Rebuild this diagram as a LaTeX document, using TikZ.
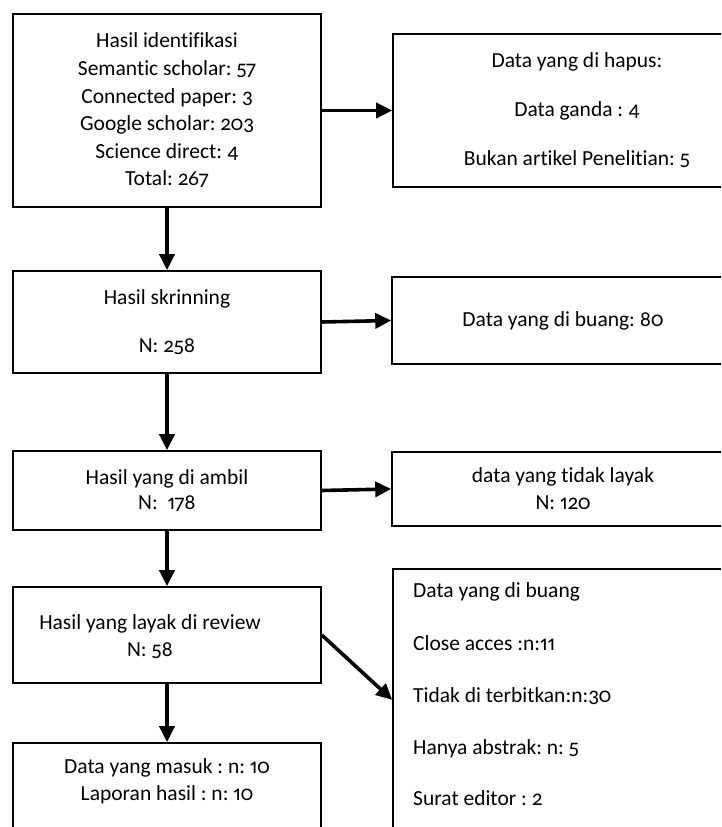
\documentclass[tikz,border=0pt]{standalone}
\usepackage{fontspec}
\setmainfont{Carlito}[Numbers={OldStyle,Proportional},Ligatures=NoCommon]
\frenchspacing
\usetikzlibrary{arrows.meta,calc}
\begin{document}
\begin{tikzpicture}[x=1pt,y=-1pt,
  box/.style={draw,line width=1.6pt,inner sep=0pt,align=center,font=\fontsize{21.5}{27.6}\selectfont},
  txt/.style={inner sep=0pt,align=center,font=\fontsize{21.5}{27.6}\selectfont},
  ltxt/.style={inner sep=0pt,anchor=west,font=\fontsize{21.5}{27.6}\selectfont,text height=0.68em,text depth=0.22em},
  conn/.style={line width=3.6pt,-{Triangle[length=16pt,width=15pt]}}]
\fill[white] (0,0) rectangle (721,827);
\useasboundingbox (0,0) rectangle (721,827);
\clip (0,0) rectangle (721,827);

\node[box,minimum width=308pt,minimum height=193pt] (A) at (167,110.5)
  {Hasil identifikasi\\Semantic scholar: 57\\Connected paper: 3\\Google scholar: 203\\Science direct: 4\\Total: 267};
\node[box,minimum width=368pt,minimum height=153pt] (B) at (577,110.5)
  {Data yang di hapus:\\[21.4pt]Data ganda : 4\\[21.4pt]Bukan artikel Penelitian: 5};

\node[box,minimum width=308pt,minimum height=102pt] (C) at (167,322)
  {Hasil skrinning\\[20.4pt]N: 258};
\node[box,minimum width=342pt,minimum height=87pt] (D) at (563,320.5)
  {Data yang di buang: 80};

\node[box,minimum width=308pt,minimum height=79pt,font=\fontsize{21.5}{25}\selectfont] (E) at (167,490.5)
  {Hasil yang di ambil\\N:\ \ 178};
\node[box,minimum width=342pt,minimum height=74pt,font=\fontsize{21.5}{27}\selectfont] (F) at (563,489)
  {data yang tidak layak\\N: 120};

\node[box,minimum width=308pt,minimum height=96pt] (G) at (167,635) {};
\node[txt,font=\fontsize{21.5}{27}\selectfont] (Gt) at (150,636.5) {Hasil yang layak di review\\N: 58};

\node[box,minimum width=368pt,minimum height=291pt] (I) at (577,714.5) {};
\node[ltxt] (I1) at (413,595) {Data yang di buang};
\node[ltxt] (I2) at (413,648) {Close acces :n:11};
\node[ltxt] (I3) at (413,700) {Tidak di terbitkan:n:30};
\node[ltxt] (I4) at (413,752) {Hanya abstrak: n: 5};
\node[ltxt] (I5) at (413,803) {Surat editor : 2};

\node[box,minimum width=308pt,minimum height=117pt] (H) at (167,801.5) {};
\node[txt,font=\fontsize{21.5}{27}\selectfont] (Ht) at (167,781.5) {Data yang masuk : n: 10\\Laporan hasil : n: 10};

\coordinate (Ie) at ($(I.north west)!0.45!(I.south west)$);

\draw[conn] (A.east) -- (B.west);
\draw[conn] (A.south) -- (C.north);
\draw[conn] (C.east) -- (D.west);
\draw[conn] (C.south) -- (E.north);
\draw[conn] (E.east) -- (F.west);
\draw[conn] (E.south) -- (G.north);
\draw[conn] (G.east) -- (Ie);
\draw[conn] (G.south) -- (H.north);
\end{tikzpicture}
\end{document}
